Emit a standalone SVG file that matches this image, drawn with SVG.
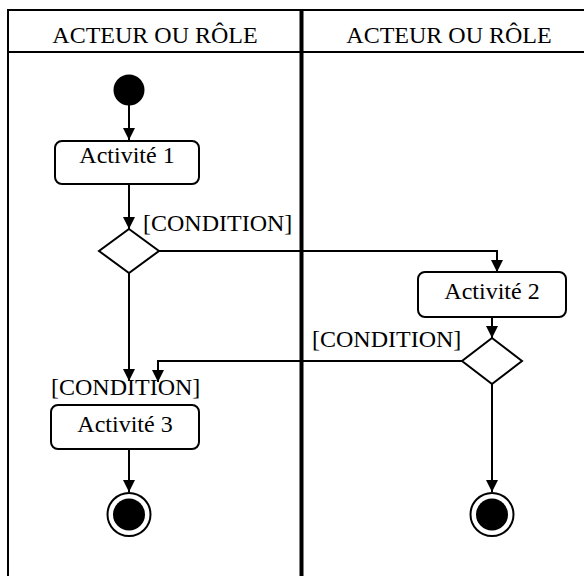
<svg xmlns="http://www.w3.org/2000/svg" width="584" height="576" viewBox="0 0 584 576">
<style>
.t{font-family:"Liberation Serif","Times New Roman",serif;font-size:24px;fill:#000}
.c{text-anchor:middle}
.box{fill:#fff;stroke:#000;stroke-width:2}
.ln{fill:none;stroke:#000;stroke-width:2}
.fr{fill:none;stroke:#000;stroke-width:2}
</style>
<defs>
<marker id="arr" markerUnits="userSpaceOnUse" markerWidth="12" markerHeight="12" refX="12" refY="6" orient="auto">
<path d="M0,0 L12,6 L0,12 z" fill="#000"/>
</marker>
</defs>
<rect width="584" height="576" fill="#fff"/>
<g id="frame">
<line class="fr" x1="7" y1="10" x2="584" y2="10"/>
<line class="fr" x1="7" y1="52" x2="584" y2="52"/>
<line class="fr" x1="8" y1="9" x2="8" y2="576"/>
<line x1="301.5" y1="10" x2="301.5" y2="576" stroke="#000" stroke-width="4"/>
<text class="t c" x="155" y="43">ACTEUR OU RÔLE</text>
<text class="t c" x="449" y="43">ACTEUR OU RÔLE</text>
</g>
<g id="connectors">
<line class="ln" x1="129" y1="105" x2="129" y2="140" marker-end="url(#arr)"/>
<line class="ln" x1="129" y1="184" x2="129" y2="229" marker-end="url(#arr)"/>
<polyline class="ln" points="159,251 497,251 497,272" marker-end="url(#arr)"/>
<line class="ln" x1="492" y1="317" x2="492" y2="338" marker-end="url(#arr)"/>
<polyline class="ln" points="462,361 158,361 158,382" marker-end="url(#arr)"/>
<line class="ln" x1="129" y1="273" x2="129" y2="381" marker-end="url(#arr)"/>
<line class="ln" x1="129" y1="449" x2="129" y2="492" marker-end="url(#arr)"/>
<line class="ln" x1="492" y1="384" x2="492" y2="492" marker-end="url(#arr)"/>
<text class="t" x="143" y="231">[CONDITION]</text>
<text class="t" x="312" y="347">[CONDITION]</text>
<text class="t" x="51" y="395">[CONDITION]</text>
</g>
<g id="start">
<circle cx="129" cy="90" r="15.5" fill="#000"/>
</g>
<g id="activite1">
<rect class="box" x="55" y="141" width="144" height="43" rx="7"/>
<text class="t c" x="127" y="163">Activité 1</text>
</g>
<g id="decision1">
<polygon class="box" points="129,229 159,251 129,273 99,251"/>
</g>
<g id="activite2">
<rect class="box" x="418" y="272" width="148" height="45" rx="7"/>
<text class="t c" x="492" y="299">Activité 2</text>
</g>
<g id="decision2">
<polygon class="box" points="492,338 522,361 492,384 462,361"/>
</g>
<g id="activite3">
<rect class="box" x="51" y="405" width="148" height="44" rx="7"/>
<text class="t c" x="125" y="432">Activité 3</text>
</g>
<g id="end1">
<circle cx="129" cy="514.5" r="21.5" fill="#fff" stroke="#000" stroke-width="2"/>
<circle cx="129" cy="514.5" r="16" fill="#000"/>
</g>
<g id="end2">
<circle cx="492" cy="514.5" r="21.5" fill="#fff" stroke="#000" stroke-width="2"/>
<circle cx="492" cy="514.5" r="16" fill="#000"/>
</g>
</svg>
